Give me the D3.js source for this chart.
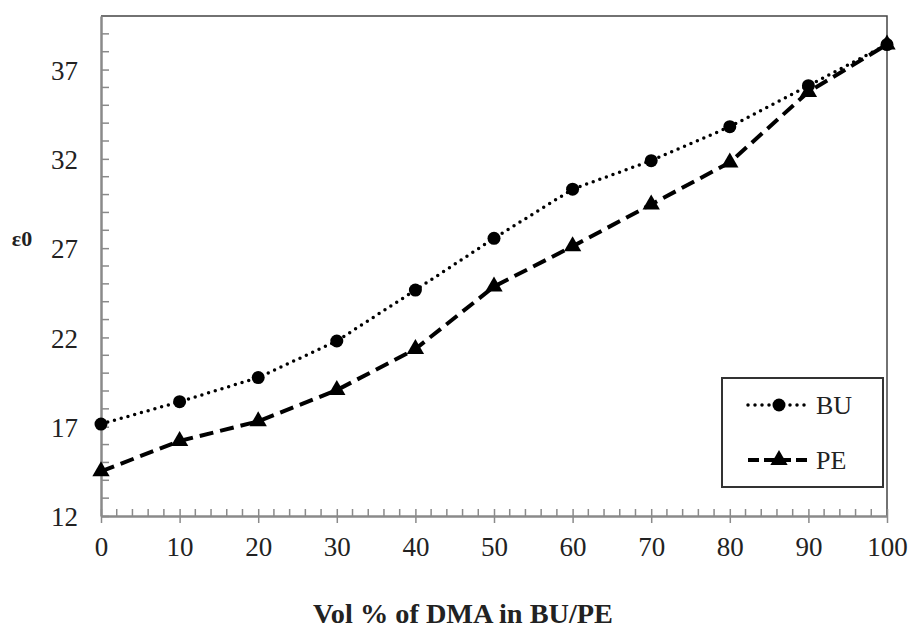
<!DOCTYPE html>
<html>
<head>
<meta charset="utf-8">
<script src="https://cdn.jsdelivr.net/npm/d3@7"></script>
<style>
  body{margin:0;background:#fff;}
  text{font-family:"Liberation Serif","Times New Roman",serif;}
</style>
</head>
<body>
<div id="chart"></div>
<script>
// data
const volPct = [0, 10, 20, 30, 40, 50, 60, 70, 80, 90, 100];
const buVals = [17.15, 18.4, 19.75, 21.8, 24.65, 27.55, 30.3, 31.9, 33.8, 36.1, 38.4];
const peVals = [14.5, 16.2, 17.3, 19.05, 21.35, 24.85, 27.1, 29.45, 31.8, 35.75, 38.4];
const yTicks = [12, 17, 22, 27, 32, 37];
const xTicks = [0, 10, 20, 30, 40, 50, 60, 70, 80, 90, 100];

const W = 911, H = 632;
const margin = {top: 16, right: 24, bottom: 116, left: 101};
const iw = W - margin.left - margin.right;
const ih = H - margin.top - margin.bottom;

const svg = d3.select('#chart').append('svg')
  .attr('width', W).attr('height', H);

const plot = svg.append('g')
  .attr('transform', 'translate(' + margin.left + ',' + margin.top + ')');

const x = d3.scaleLinear().domain([0, 100]).range([0, iw]);
const y = d3.scaleLinear().domain([12, 40]).range([ih, 0]);

// frame top/right
plot.append('path')
  .attr('d', 'M0,0H' + iw + 'V' + ih)
  .attr('fill', 'none').attr('stroke', '#444').attr('stroke-width', 1.5);

// minor ticks (inside)
const axisCol = '#8a8a8a';
plot.append('g').selectAll('line').data(d3.range(0, 101, 2).filter(d => d % 10 !== 0))
  .enter().append('line')
  .attr('x1', d => x(d)).attr('x2', d => x(d))
  .attr('y1', ih).attr('y2', ih - 7)
  .attr('stroke', axisCol).attr('stroke-width', 1.5);
plot.append('g').selectAll('line').data(d3.range(13, 40, 1).filter(d => (d - 12) % 5 !== 0))
  .enter().append('line')
  .attr('x1', 0).attr('x2', 8)
  .attr('y1', d => y(d)).attr('y2', d => y(d))
  .attr('stroke', axisCol).attr('stroke-width', 1.5);

// axes
const xAxis = d3.axisBottom(x).tickValues(xTicks).tickSizeInner(7).tickSizeOuter(0).tickPadding(14);
const yAxis = d3.axisLeft(y).tickValues(yTicks).tickSizeInner(7).tickSizeOuter(0).tickPadding(16);

const gx = plot.append('g').attr('transform', 'translate(0,' + ih + ')').call(xAxis);
const gy = plot.append('g').call(yAxis);

[gx, gy].forEach(g => {
  g.select('.domain').attr('stroke', axisCol).attr('stroke-width', 2.5);
  g.selectAll('.tick line').attr('stroke', axisCol).attr('stroke-width', 1.5);
  g.selectAll('.tick text').attr('fill', '#222')
    .style('font-family', '"Liberation Serif","Times New Roman",serif')
    .style('font-size', '27px');
});
gx.selectAll('.tick line').attr('y1', -7);
gy.selectAll('.tick line').attr('x2', 8);
gy.selectAll('.tick text').attr('dy', '0.36em');

// lines
const line = d3.line().x(d => x(d[0])).y(d => y(d[1]));
const buPts = volPct.map((v, i) => [v, buVals[i]]);
const pePts = volPct.map((v, i) => [v, peVals[i]]);

plot.append('path').datum(buPts).attr('d', line)
  .attr('fill', 'none').attr('stroke', '#000').attr('stroke-width', 3.5)
  .attr('stroke-linecap', 'round').attr('stroke-dasharray', '0,7');
plot.append('path').datum(pePts).attr('d', line)
  .attr('fill', 'none').attr('stroke', '#000').attr('stroke-width', 4)
  .attr('stroke-dasharray', '14,7');

const tri = d3.symbol().type(d3.symbolTriangle).size(130);
plot.append('g').selectAll('path').data(pePts).enter().append('path')
  .attr('d', tri)
  .attr('transform', d => 'translate(' + x(d[0]) + ',' + y(d[1]) + ')')
  .attr('fill', '#000');
plot.append('g').selectAll('circle').data(buPts).enter().append('circle')
  .attr('cx', d => x(d[0])).attr('cy', d => y(d[1])).attr('r', 6.5)
  .attr('fill', '#000');

// legend
const lg = svg.append('g').attr('transform', 'translate(722,378)');
lg.append('rect').attr('width', 161).attr('height', 109)
  .attr('fill', '#fff').attr('stroke', '#333').attr('stroke-width', 2);
const legendItems = [
  {name: 'BU', dash: '0,7', w: 3.5, cap: 'round', sym: 'circle'},
  {name: 'PE', dash: '11,5', w: 4, cap: 'butt', sym: 'tri'}
];
legendItems.forEach((it, i) => {
  const cy = 27 + i * 55;
  lg.append('line').attr('x1', 26).attr('x2', 86).attr('y1', cy).attr('y2', cy)
    .attr('stroke', '#000').attr('stroke-width', it.w)
    .attr('stroke-linecap', it.cap).attr('stroke-dasharray', it.dash);
  if (it.sym === 'circle') {
    lg.append('circle').attr('cx', 57).attr('cy', cy).attr('r', 6.5).attr('fill', '#000');
  } else {
    lg.append('path').attr('d', tri).attr('transform', 'translate(57,' + cy + ')').attr('fill', '#000');
  }
  lg.append('text').attr('x', 94).attr('y', cy + 9)
    .style('font-size', '26px').attr('fill', '#222').text(it.name);
});

// axis titles
svg.append('text').attr('x', 463).attr('y', 623)
  .attr('text-anchor', 'middle')
  .attr('textLength', 300).attr('lengthAdjust', 'spacingAndGlyphs')
  .style('font-size', '28px').style('font-weight', 'bold').attr('fill', '#222')
  .text('Vol % of DMA in BU/PE');
svg.append('text').attr('x', 22).attr('y', 246)
  .attr('text-anchor', 'middle')
  .style('font-size', '22px').style('font-weight', 'bold').attr('fill', '#222')
  .text('ε0');
</script>
</body>
</html>
